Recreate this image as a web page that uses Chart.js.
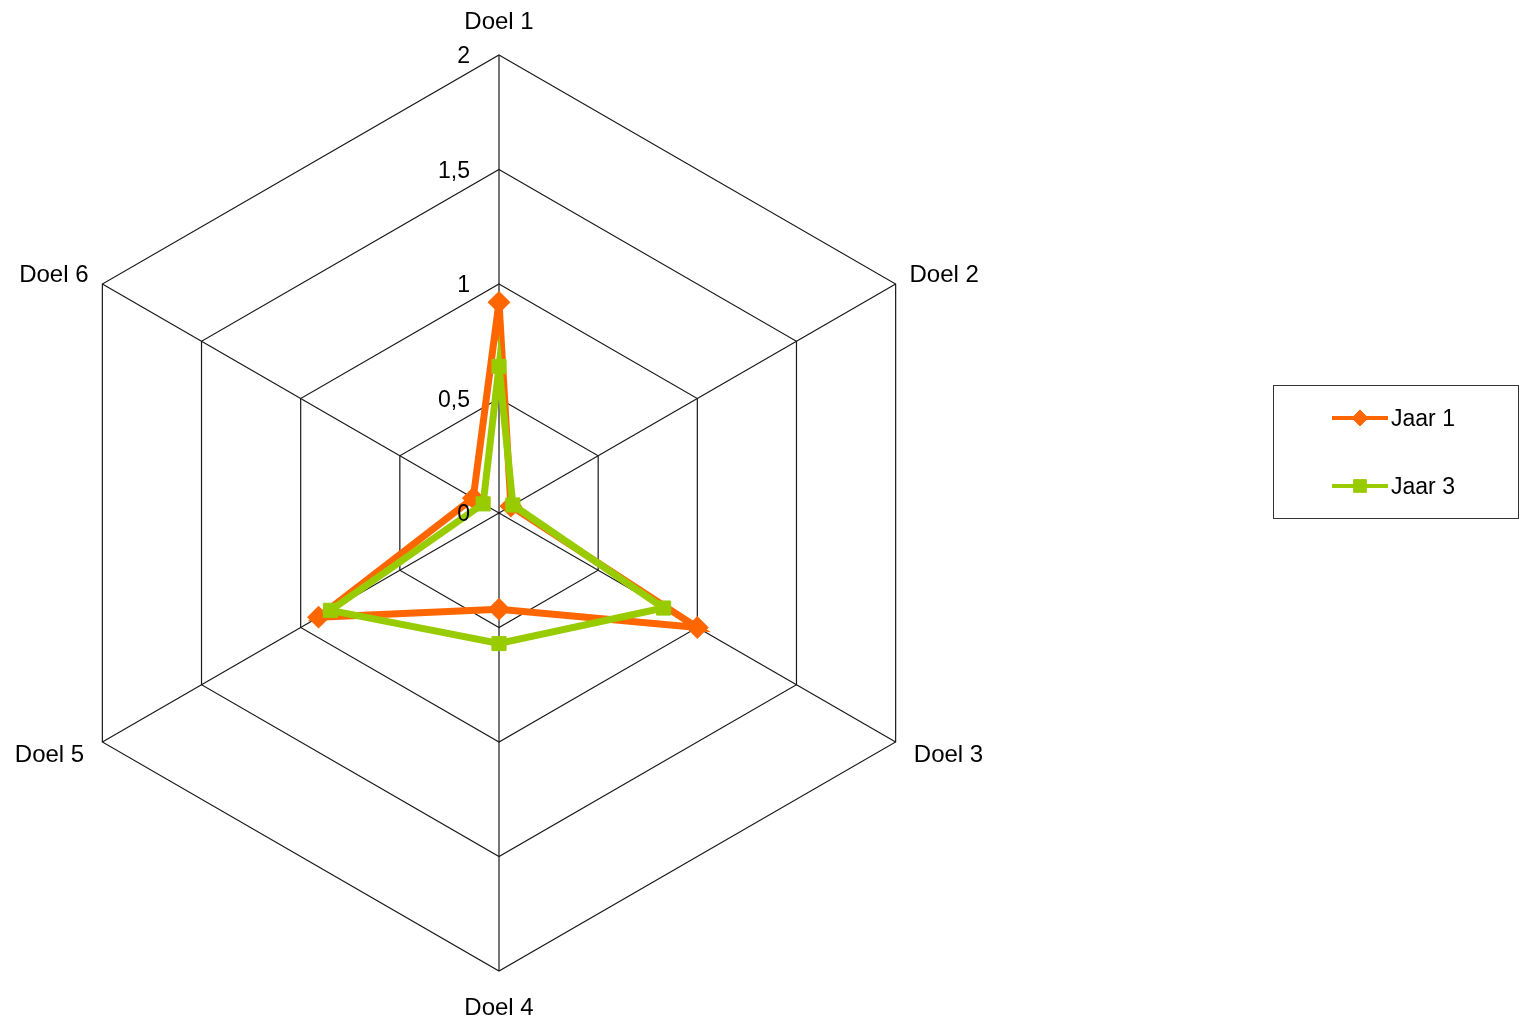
<!DOCTYPE html>
<html>
<head>
<meta charset="utf-8">
<script src="https://cdn.jsdelivr.net/npm/chart.js@4/dist/chart.umd.min.js"></script>
<style>
  html, body { margin: 0; padding: 0; background: #ffffff; overflow: hidden; }
  #wrap { position: absolute; left: 0; top: 0; width: 1524px; height: 1019px; }
</style>
</head>
<body>
<div id="wrap"><canvas id="c" width="1524" height="1019"></canvas></div>
<script>
const categories = ['Doel 1', 'Doel 2', 'Doel 3', 'Doel 4', 'Doel 5', 'Doel 6'];
const seriesNames = ['Jaar 1', 'Jaar 3'];
const jaar1 = [0.92, 0.06, 1.0, 0.42, 0.91, 0.13];
const jaar3 = [0.64, 0.07, 0.83, 0.57, 0.85, 0.08];
const tickLabels = ['0', '0,5', '1', '1,5', '2'];

const ORANGE = '#FF6600';
const GREEN = '#99CC00';
const FONT = '"Liberation Sans", Arial, sans-serif';

const tickLabelPlugin = {
  id: 'tickLabelPlugin',
  afterDatasetsDraw(chart) {
    const s = chart.scales.r;
    const ctx = chart.ctx;
    ctx.save();
    ctx.font = '23px ' + FONT;
    ctx.fillStyle = '#000000';
    ctx.textAlign = 'right';
    ctx.textBaseline = 'middle';
    s.ticks.forEach((t) => {
      const d = s.getDistanceFromCenterForValue(t.value);
      ctx.fillText(t.label, s.xCenter - 29, s.yCenter - d + 2);
    });
    ctx.restore();
  }
};

const legendPlugin = {
  id: 'boxLegend',
  afterDraw(chart) {
    const ctx = chart.ctx;
    ctx.save();
    ctx.strokeStyle = '#333333';
    ctx.lineWidth = 1;
    ctx.strokeRect(1273.5, 385.5, 245, 133);
    const items = [
      { label: seriesNames[0], color: ORANGE, style: 'rectRot', r: 8, y: 418 },
      { label: seriesNames[1], color: GREEN, style: 'rect', r: 9, y: 486 }
    ];
    items.forEach((it) => {
      ctx.strokeStyle = it.color;
      ctx.lineWidth = 4;
      ctx.beginPath();
      ctx.moveTo(1332, it.y);
      ctx.lineTo(1388, it.y);
      ctx.stroke();
      ctx.fillStyle = it.color;
      ctx.lineWidth = 1;
      Chart.helpers.drawPoint(ctx, { pointStyle: it.style, radius: it.r, rotation: 0, borderWidth: 1 }, 1360, it.y);
      ctx.fillStyle = '#000000';
      ctx.font = '23px ' + FONT;
      ctx.textAlign = 'left';
      ctx.textBaseline = 'middle';
      ctx.fillText(it.label, 1391, it.y + 2);
    });
    ctx.restore();
  }
};

new Chart(document.getElementById('c'), {
  type: 'radar',
  data: {
    labels: categories,
    datasets: [
      {
        label: seriesNames[0],
        data: jaar1,
        borderColor: ORANGE,
        backgroundColor: ORANGE,
        pointBackgroundColor: ORANGE,
        pointBorderColor: ORANGE,
        borderWidth: 7,
        pointStyle: 'rectRot',
        pointRadius: 10,
        pointBorderWidth: 2,
        fill: false,
        tension: 0,
        order: 2
      },
      {
        label: seriesNames[1],
        data: jaar3,
        borderColor: GREEN,
        backgroundColor: GREEN,
        pointBackgroundColor: GREEN,
        pointBorderColor: GREEN,
        borderWidth: 7,
        pointStyle: 'rect',
        pointRadius: 10,
        pointBorderWidth: 1,
        fill: false,
        tension: 0,
        order: 1
      }
    ]
  },
  options: {
    responsive: false,
    animation: false,
    devicePixelRatio: 1,
    layout: { padding: 0 },
    plugins: {
      legend: { display: false },
      tooltip: { enabled: false },
      title: { display: false }
    },
    scales: {
      r: {
        min: 0,
        max: 2,
        afterSetDimensions(scale) {
          scale.xCenter = 499;
          scale.yCenter = 513;
          scale.drawingArea = 458;
        },
        ticks: {
          stepSize: 0.5,
          display: false,
          callback: (v, i) => tickLabels[i]
        },
        grid: { color: '#1a1a1a', lineWidth: 1.2 },
        angleLines: { color: '#1a1a1a', lineWidth: 1.2 },
        pointLabels: {
          color: '#000000',
          font: (ctx) => ({
            family: FONT,
            size: 24,
            lineHeight: (ctx.index === 2 || ctx.index === 4) ? '5px' : '1px'
          }),
          padding: (ctx) => {
            if (ctx.index === 0) return 32;
            if (ctx.index === 3) return 37;
            if (ctx.index === 1 || ctx.index === 5) return 16;
            return 21;
          }
        }
      }
    }
  },
  plugins: [tickLabelPlugin, legendPlugin]
});
</script>
</body>
</html>
